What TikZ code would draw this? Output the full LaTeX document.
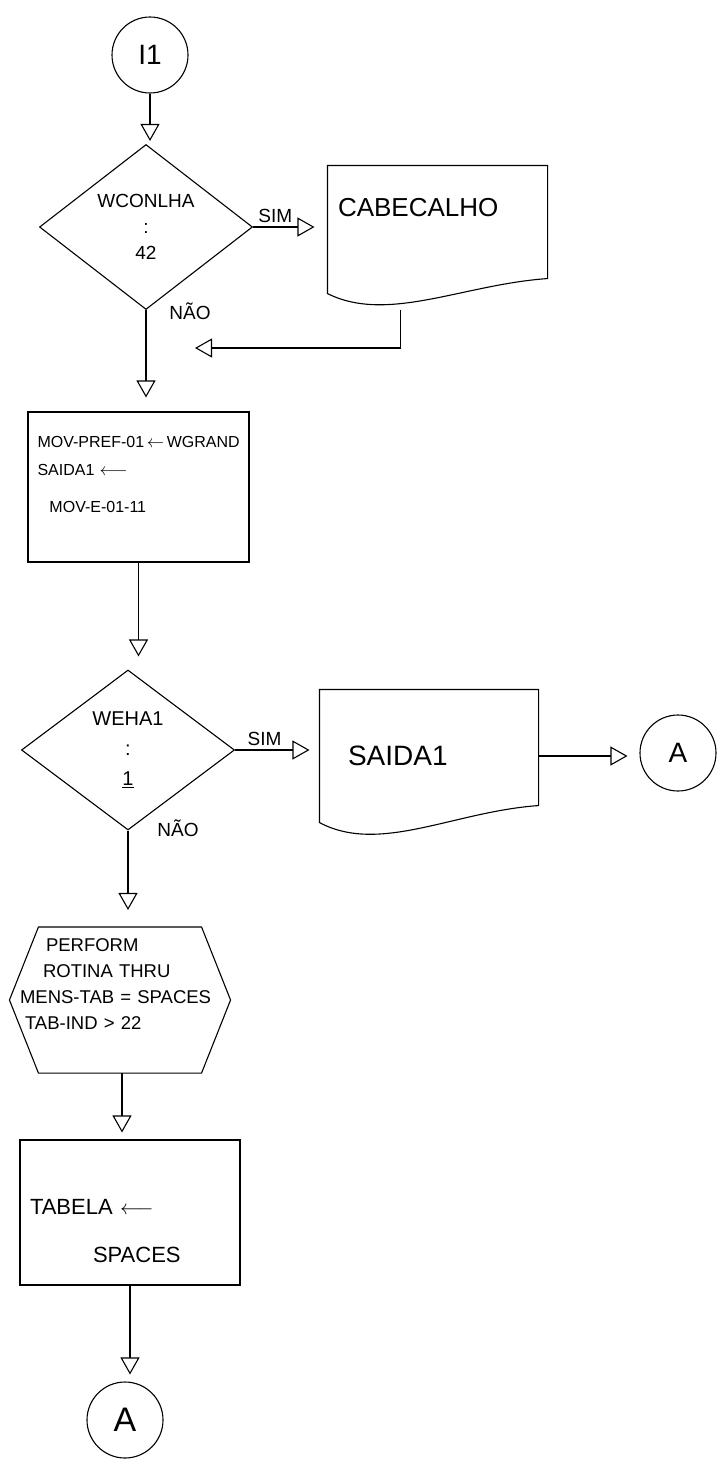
\documentclass[tikz,border=0pt]{standalone}
\usepackage{fontspec}
\setmainfont{Liberation Sans}
\usetikzlibrary{arrows.meta,shapes.geometric}

\begin{document}
\begin{tikzpicture}[x=1pt,y=-1pt,line width=1.1pt,
    >={Triangle[open,length=17pt,width=19pt]},
    decision/.style={diamond,draw,inner sep=0pt,align=center},
    box/.style={rectangle,draw,inner sep=0pt,align=left},
    docbox/.style={rectangle,inner sep=0pt,align=left},
    connector/.style={circle,draw,inner sep=0pt,minimum size=76pt},
    lbl/.style={font=\fontsize{19}{22}\selectfont}]
        \useasboundingbox (0,0) rectangle (720,1462);

        % Start
        \node[connector,font=\fontsize{28}{30}\selectfont] (i1) at (150,55) {I1};

        % Line count test
        \node[decision,minimum width=213pt,minimum height=165pt,font=\fontsize{19}{26}\selectfont] (lin) at (146,227) {WCONLHA\\:\\42};
        \draw[->,shorten >=3pt] (i1.south) -- (i1.south |- lin.north);

        % Header
        \node[docbox,minimum width=219pt,minimum height=127pt,text width=209pt,font=\fontsize{26}{31}\selectfont] (cab) at (437.5,229.5) {\hspace*{5pt}CABECALHO\\[14pt]\mbox{}};
        \draw (cab.south west) .. controls +(60,30) and +(-85,6) .. ([shift={(0,-15)}]cab.south east) -- (cab.north east) -- (cab.north west) -- cycle;
        \draw[->,shorten >=13pt] (lin.east) -- (lin.east -| cab.west) node[lbl,above,pos=0.3] {SIM};
        \node[lbl] (nao1) at (190,311) {NÃO};
        \coordinate (cabout) at ([shift={(-37,16)}]cab.south);
        \coordinate (ret1) at (195,348);
        \draw[->] (cabout) |- (ret1);

        % Moves
        \node[box,minimum width=221pt,minimum height=150pt,text width=218pt,font=\fontsize{16}{28}\selectfont] (mov) at (138.5,487) {\hspace*{8pt}MOV-PREF-01\,$\leftarrow$\,WGRAND\\\hspace*{8pt}SAIDA1 $\longleftarrow$\\[9pt]\hspace*{20pt}MOV-E-01-11\\[-3pt]\mbox{}};
        \draw[->,shorten >=14pt] (lin.south) -- (lin.south |- mov.north);

        % Second test
        \node[decision,minimum width=213pt,minimum height=160pt,font=\fontsize{20}{30}\selectfont] (cha) at (128,750) {WEHA1\\:\\\underline{1}};
        \draw[->,shorten >=13pt] (mov.south) -- (mov.south |- cha.north);

        % Output
        \node[docbox,minimum width=218pt,minimum height=132pt,text width=200pt,font=\fontsize{28}{32}\selectfont] (sai) at (429,756) {\hspace*{19pt}SAIDA1};
        \draw (sai.south west) .. controls +(60,32) and +(-85,6) .. ([shift={(0,-17)}]sai.south east) -- (sai.north east) -- (sai.north west) -- cycle;
        \draw[->,shorten >=10pt] (cha.east) -- (cha.east -| sai.west) node[lbl,above,pos=0.35] {SIM};
        \node[connector,font=\fontsize{28}{30}\selectfont] (a1) at (678,753) {A};
        \draw[->,shorten >=12pt] (sai.east) -- (sai.east -| a1.west);
        \node[lbl] (nao2) at (178,828) {NÃO};

        % Perform
        \node[docbox,minimum height=145pt,text width=204pt,font=\fontsize{18.5}{26}\selectfont] (prf) at (122,1000) {\hspace*{26pt}PERFORM\\\hspace*{23pt}ROTINA THRU\\MENS-TAB = SPACES\\\hspace*{5pt}TAB-IND > 22\\[6pt]\mbox{}};
        \draw ([shift={(19,0)}]prf.north west) -- ([shift={(-23,0)}]prf.north east) -- ([shift={(6,0)}]prf.east) -- ([shift={(-23,0)}]prf.south east) -- ([shift={(19,0)}]prf.south west) -- ([shift={(-10,0)}]prf.west) -- cycle;
        \draw[->,shorten >=17pt] (cha.south) -- (cha.south |- prf.north);

        % Table
        \node[box,minimum width=220pt,minimum height=145pt,text width=200pt,font=\fontsize{22}{48}\selectfont] (tab) at (130,1212.5) {\mbox{}\\[5pt]TABELA $\longleftarrow$\\\hspace*{63pt}SPACES};
        \draw[->,shorten >=7pt] (prf.south) -- (prf.south |- tab.north);

        % End
        \node[connector,font=\fontsize{34}{36}\selectfont] (a2) at (125,1420) {A};
        \draw[->,shorten >=7pt] (tab.south) -- (tab.south |- a2.north);
\end{tikzpicture}
\end{document}
